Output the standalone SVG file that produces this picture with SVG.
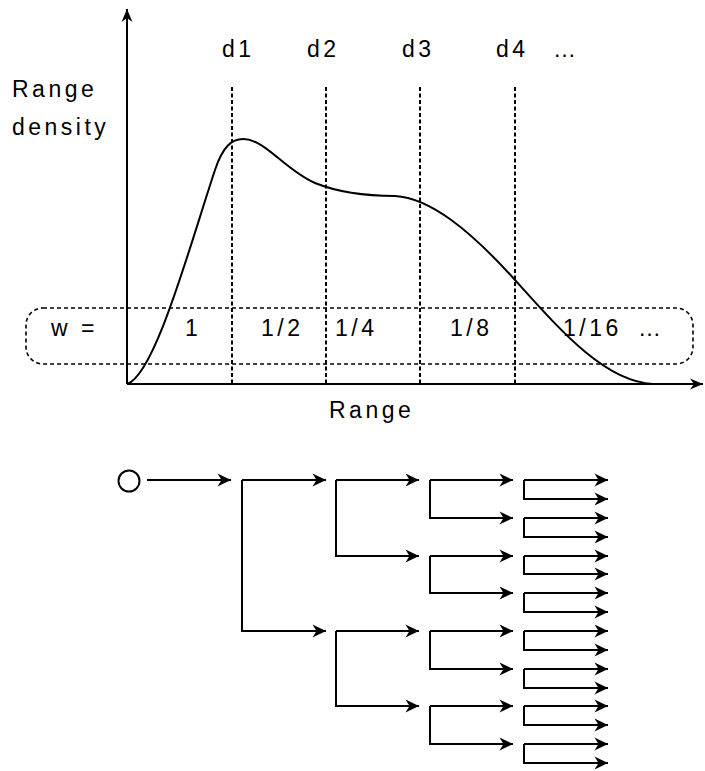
<svg xmlns="http://www.w3.org/2000/svg" width="705" height="771" viewBox="0 0 705 771">
<defs>
<marker id="ah" viewBox="-14 -7 15 14" refX="0" refY="0" markerWidth="15" markerHeight="14" markerUnits="userSpaceOnUse" orient="auto">
<path d="M0,0 L-13.5,-6.5 L-9.5,0 L-13.5,6.5 Z" fill="#000"/>
</marker>
<marker id="axh" viewBox="-14 -7 15 14" refX="0" refY="0" markerWidth="15" markerHeight="14" markerUnits="userSpaceOnUse" orient="auto">
<path d="M0,0 L-13,-5.5 L-9,0 L-13,5.5 Z" fill="#000"/>
</marker>
</defs>
<style>
text { font-family: "Liberation Sans", Arial, sans-serif; font-size: 23px; letter-spacing: 3.5px; fill: #000; }
.ln { fill: none; stroke: #000; stroke-width: 2; }
.dot { fill: none; stroke: #000; stroke-width: 2; stroke-dasharray: 4 2.5; }
.box { fill: none; stroke: #000; stroke-width: 1.6; stroke-dasharray: 4 3; }
.arr { fill: none; stroke: #000; stroke-width: 2; marker-end: url(#ah); }
</style>
<rect width="705" height="771" fill="#fff"/>

<g id="chart">
<rect class="box" x="26" y="308" width="667" height="56" rx="17" ry="17"/>
<path class="dot" d="M232,87 V384 M326,87 V384 M420,87 V384 M515,87 V384"/>
<path class="ln" d="M127,384 C155,375 190,245 215,170 C223,146 232,139 243,139 C265,139 285,170 315,183 C340,193 365,196 395,196 C430,198 470,230 515,280 C560,330 605,382 653,384"/>
<path class="ln" d="M127,384 V9" marker-end="url(#axh)"/>
<path class="ln" d="M127,384 H703" marker-end="url(#axh)"/>
<text x="12" y="97">Range</text>
<text x="12" y="135">density</text>
<text x="222" y="57">d1</text>
<text x="307" y="57">d2</text>
<text x="402" y="57">d3</text>
<text x="496" y="57">d4</text>
<text x="553" y="57">…</text>
<text x="329" y="418">Range</text>
<text x="51" y="336">w =</text>
<text x="185" y="336">1</text>
<text x="261" y="336">1/2</text>
<text x="335" y="336">1/4</text>
<text x="450" y="336">1/8</text>
<text x="563" y="336">1/16</text>
<text x="638" y="336">…</text>
</g>

<g id="root">
<circle cx="129" cy="481" r="10.5" fill="#fff" stroke="#000" stroke-width="2"/>
</g>

<g id="connectors">
<path class="arr" d="M147,480 H231"/>
<path class="arr" d="M242,480 H326"/>
<path class="arr" d="M242,480 V631 H326"/>
<path class="arr" d="M336,480 H419"/>
<path class="arr" d="M336,480 V556 H419"/>
<path class="arr" d="M336,631 H419"/>
<path class="arr" d="M336,631 V706 H419"/>
<path class="arr" d="M430,480 H513"/>
<path class="arr" d="M430,480 V518 H513"/>
<path class="arr" d="M430,556 H513"/>
<path class="arr" d="M430,556 V593 H513"/>
<path class="arr" d="M430,631 H513"/>
<path class="arr" d="M430,631 V669 H513"/>
<path class="arr" d="M430,706 H513"/>
<path class="arr" d="M430,706 V744 H513"/>
<path class="arr" d="M524,480 H608"/>
<path class="arr" d="M524,480 V499 H608"/>
<path class="arr" d="M524,518 H608"/>
<path class="arr" d="M524,518 V537 H608"/>
<path class="arr" d="M524,556 H608"/>
<path class="arr" d="M524,556 V574 H608"/>
<path class="arr" d="M524,593 H608"/>
<path class="arr" d="M524,593 V612 H608"/>
<path class="arr" d="M524,631 H608"/>
<path class="arr" d="M524,631 V650 H608"/>
<path class="arr" d="M524,669 H608"/>
<path class="arr" d="M524,669 V688 H608"/>
<path class="arr" d="M524,706 H608"/>
<path class="arr" d="M524,706 V725 H608"/>
<path class="arr" d="M524,744 H608"/>
<path class="arr" d="M524,744 V763 H608"/>
</g>
</svg>
